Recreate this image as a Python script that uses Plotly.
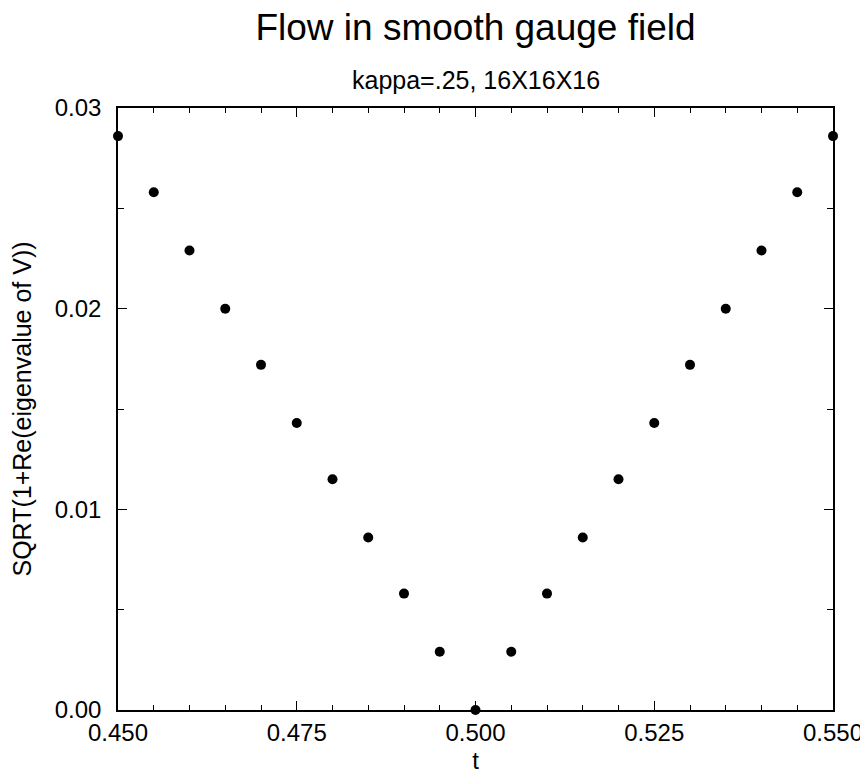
import plotly.graph_objects as go

t_values = [0.450, 0.455, 0.460, 0.465, 0.470, 0.475, 0.480, 0.485, 0.490, 0.495, 0.500,
            0.505, 0.510, 0.515, 0.520, 0.525, 0.530, 0.535, 0.540, 0.545, 0.550]
sqrt_values = [0.0286, 0.0258, 0.0229, 0.0200, 0.0172, 0.0143, 0.0115, 0.0086, 0.0058, 0.0029, 0.0000,
               0.0029, 0.0058, 0.0086, 0.0115, 0.0143, 0.0172, 0.0200, 0.0229, 0.0258, 0.0286]
x_ticks = [0.450, 0.475, 0.500, 0.525, 0.550]
y_ticks = [0.00, 0.01, 0.02, 0.03]

FONT = "Liberation Sans, Arial, sans-serif"

fig = go.Figure()
fig.add_trace(go.Scatter(
    x=t_values, y=sqrt_values, mode="markers",
    marker=dict(color="black", size=10, line=dict(width=0)),
    cliponaxis=False, showlegend=False,
))

fig.update_layout(
    width=868, height=774,
    margin=dict(l=110, r=43, t=100, b=72, autoexpand=False),
    paper_bgcolor="white", plot_bgcolor="white",
    font=dict(family=FONT, color="black"),
    title=dict(text="Flow in smooth gauge field", xref="paper", x=0.5, xanchor="center",
               y=1 - 19 / 774, yanchor="middle", font=dict(size=37, family=FONT, color="black")),
    annotations=[dict(text="kappa=.25, 16X16X16", xref="paper", yref="paper",
                      x=0.5, y=1, yshift=28, xanchor="center", yanchor="middle",
                      showarrow=False, font=dict(size=25, family=FONT, color="black"))],
)

fig.update_xaxes(
    range=[0.45, 0.55], tickvals=x_ticks, ticktext=[f"{v:.3f}" for v in x_ticks],
    ticks="inside", ticklen=9, tickwidth=1, tickcolor="black",
    showline=True, linecolor="black", linewidth=1.5, mirror="allticks",
    showgrid=False, zeroline=False, automargin=False,
    tickfont=dict(size=24, family=FONT, color="black"),
    minor=dict(dtick=0.005, tick0=0.45, ticks="inside", ticklen=5, tickcolor="black", tickwidth=1, showgrid=False),
    title=dict(text="t", font=dict(size=24, family=FONT, color="black"), standoff=8),
)
fig.update_yaxes(
    range=[0, 0.03], tickvals=y_ticks, ticktext=[f"{v:.2f}" for v in y_ticks],
    ticks="inside", ticklen=9, tickwidth=1, tickcolor="black",
    showline=True, linecolor="black", linewidth=1.5, mirror="allticks",
    showgrid=False, zeroline=False, automargin=False,
    tickfont=dict(size=24, family=FONT, color="black"),
    ticklabelstandoff=10,
    minor=dict(dtick=0.005, tick0=0, ticks="inside", ticklen=6, tickcolor="black", tickwidth=1, showgrid=False),
    title=dict(text="SQRT(1+Re(eigenvalue of V))", font=dict(size=25, family=FONT, color="black"), standoff=20),
)

fig.write_html("out.html")
